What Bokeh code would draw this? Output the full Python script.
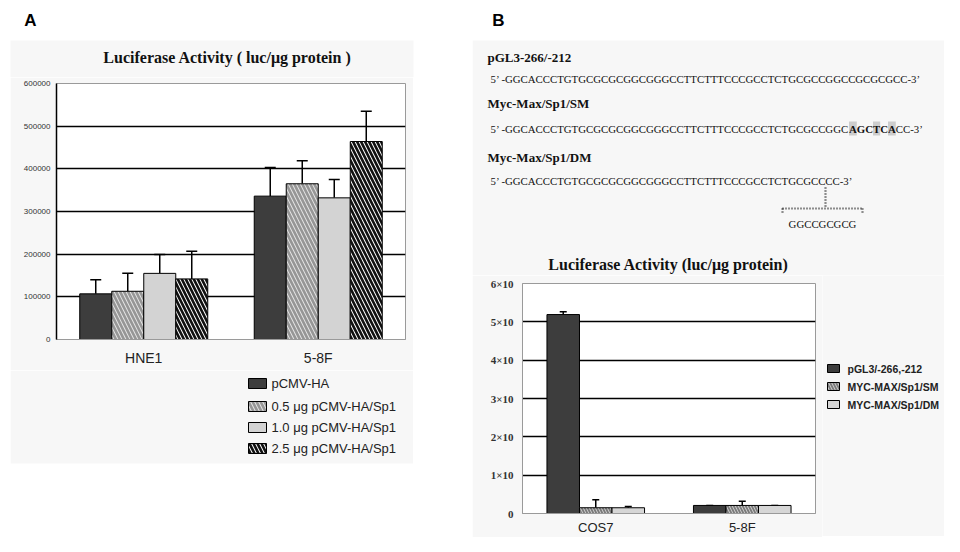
from bokeh.plotting import figure
from bokeh.layouts import row, column
from bokeh.models import (ColumnDataSource, FactorRange, Range1d, Whisker, TeeHead,
                          FixedTicker, NumeralTickFormatter, Spacer)
from bokeh.transform import dodge
from bokeh.core.properties import value
from bokeh.embed import file_html
from bokeh.resources import INLINE

# ---------------- Panel A data ----------------
a_cells = ["HNE1", "5-8F"]
a_series = ["pCMV-HA", "0.5 μg pCMV-HA/Sp1", "1.0 μg pCMV-HA/Sp1", "2.5 μg pCMV-HA/Sp1"]
a_mean_pcmv = [107000, 336000]
a_mean_05 = [113000, 365000]
a_mean_10 = [155000, 332000]
a_mean_25 = [142000, 464000]
a_sd_pcmv = [33000, 67000]
a_sd_05 = [42000, 54000]
a_sd_10 = [44000, 43000]
a_sd_25 = [65000, 71000]
a_yticks = [0, 100000, 200000, 300000, 400000, 500000, 600000]
a_title = "Luciferase Activity ( luc/μg protein )"

# ---------------- Panel B data ----------------
b_cells = ["COS7", "5-8F"]
b_series = ["pGL3/-266,-212", "MYC-MAX/Sp1/SM", "MYC-MAX/Sp1/DM"]
b_mean_wt = [5.19, 0.21]
b_mean_sm = [0.15, 0.21]
b_mean_dm = [0.15, 0.21]
b_sd_wt = [0.07, 0.0]
b_sd_sm = [0.21, 0.11]
b_sd_dm = [0.03, 0.0]
b_yticks = [0, 1, 2, 3, 4, 5, 6]
b_ytick_labels = ["0", "1×10", "2×10", "3×10", "4×10", "5×10", "6×10"]
b_title = "Luciferase Activity (luc/μg protein)"

seq_names = ["pGL3-266/-212", "Myc-Max/Sp1/SM", "Myc-Max/Sp1/DM"]
seq_wt = "5’ -GGCACCCTGTGCGCGCGGCGGGCCTTCTTTCCCGCCTCTGCGCCGGCCGCGCGCC-3’"
seq_sm_a = "5’ -GGCACCCTGTGCGCGCGGCGGGCCTTCTTTCCCGCCTCTGCGCCGGC"
seq_sm_b = "AGCTCA"
seq_sm_c = "CC-3’"
seq_dm = "5’ -GGCACCCTGTGCGCGCGGCGGGCCTTCTTTCCCGCCTCTGCGCCCC-3’"
seq_insert = "GGCCGCGCG"

BG = "#f7f7f7"
SERIF = "Liberation Serif"
SANS = "Liberation Sans"


def no_align(p):
    if "frame_align" in p.properties():
        p.frame_align = False
    return p


def text_fig(x0, x1, y0, y1):
    p = figure(x_range=Range1d(x0, x1), y_range=Range1d(y1, y0),
               frame_width=x1 - x0, frame_height=y1 - y0,
               min_border_left=0, min_border_right=0, min_border_top=0, min_border_bottom=0,
               x_axis_location=None, y_axis_location=None,
               output_backend="svg", toolbar_location=None, outline_line_color=None)
    p.grid.visible = False
    p.background_fill_color = "white"
    p.border_fill_color = "white"
    return no_align(p)


def chart_fig(xr, yr, fw, fh, l, r, t, b):
    p = figure(x_range=xr, y_range=yr, frame_width=fw, frame_height=fh,
               min_border_left=l, min_border_right=r, min_border_top=t, min_border_bottom=b,
               output_backend="svg", toolbar_location=None, outline_line_color="#9a9a9a")
    p.background_fill_color = "white"
    p.border_fill_color = BG
    return no_align(p)


def style_axes(p, ylab_font, ylab_size, ylab_style, ylab_standoff, yline_color, yline_w,
               xsize, xstandoff):
    p.yaxis.axis_line_color = yline_color
    p.yaxis.axis_line_width = yline_w
    p.yaxis.major_tick_out = 0
    p.yaxis.major_tick_in = 0
    p.yaxis.minor_tick_out = 0
    p.yaxis.minor_tick_in = 0
    p.yaxis.major_label_text_font = ylab_font
    p.yaxis.major_label_text_font_style = ylab_style
    p.yaxis.major_label_text_font_size = ylab_size
    p.yaxis.major_label_text_color = "#333333"
    p.yaxis.major_label_standoff = ylab_standoff
    p.xaxis.axis_line_color = "#9a9a9a"
    p.xaxis.major_tick_out = 0
    p.xaxis.major_tick_in = 0
    p.xaxis.major_label_text_font = SANS
    p.xaxis.major_label_text_font_size = xsize
    p.xaxis.major_label_text_color = "#222222"
    p.xaxis.major_label_standoff = xstandoff
    p.xgrid.visible = False
    p.ygrid.grid_line_color = "black"
    p.ygrid.grid_line_width = 1.5


# ================= Panel A : header =================
pAtop = text_fig(0, 472, 0, 77)
pAtop.quad(left=[10], right=[413], top=[40], bottom=[77], fill_color=BG, line_color=None)
pAtop.text(x=[30], y=[20], text=["A"], text_font=value(SANS), text_font_style="bold",
           text_font_size="17px", text_align="center", text_baseline="middle", text_color="black")
pAtop.text(x=[227], y=[57], text=[a_title], text_font=value(SERIF), text_font_style="bold",
           text_font_size="16px", text_align="center", text_baseline="middle", text_color="#111111")

# ================= Panel A : chart =================
pA = chart_fig(FactorRange(*a_cells), Range1d(0, 600000), 349, 256, 46, 8, 6, 31)

bwA = 0.1834
offA = [-1.5 * bwA, -0.5 * bwA, 0.5 * bwA, 1.5 * bwA]
a_means = [a_mean_pcmv, a_mean_05, a_mean_10, a_mean_25]
a_sds = [a_sd_pcmv, a_sd_05, a_sd_10, a_sd_25]
a_styles = [
    dict(fill_color="#3d3d3d"),
    dict(fill_color="#e4e4e4", hatch_pattern="left_diagonal_line", hatch_color="#969696",
         hatch_weight=2.6, hatch_scale=8),
    dict(fill_color="#d3d3d3"),
    dict(fill_color="white", hatch_pattern="left_diagonal_line", hatch_color="#111111",
         hatch_weight=2.6, hatch_scale=8),
]
for m, s, off, st in zip(a_means, a_sds, offA, a_styles):
    src = ColumnDataSource(dict(cell=a_cells, mean=m, top=[mm + ss for mm, ss in zip(m, s)]))
    x = dodge("cell", off, range=pA.x_range)
    pA.add_layout(Whisker(source=src, base=x, lower="mean", upper="top", dimension="height",
                          line_color="black", line_width=1.5, lower_head=None,
                          upper_head=TeeHead(size=11, line_color="black", line_width=1.5)))
    pA.vbar(x=x, top="mean", bottom=0, width=bwA, source=src, line_color="black", line_width=1, **st)

pA.yaxis.ticker = FixedTicker(ticks=a_yticks)
pA.yaxis.formatter = NumeralTickFormatter(format="0")
style_axes(pA, SANS, "8px", "normal", 6, "black", 1.5, "14px", 10)
pA.ygrid.ticker = FixedTicker(ticks=a_yticks[1:-1])

# ================= Panel A : legend =================
pAbot = text_fig(10, 413, 370, 536)
pAbot.quad(left=[10], right=[413], top=[370], bottom=[463], fill_color=BG, line_color=None)
a_leg_rows = [383, 406, 427, 448]
for yy, st in zip(a_leg_rows, a_styles):
    pAbot.quad(left=[248], right=[266], top=[yy - 5], bottom=[yy + 5], line_color="black",
               line_width=1, **st)
pAbot.text(x=[271] * 4, y=a_leg_rows, text=a_series, text_font=value(SANS), text_font_size="13px",
           text_align="left", text_baseline="middle", text_color="#222222")

# ================= Panel B : sequences =================
pT = text_fig(472, 944, 0, 275)
pT.quad(left=[472], right=[944], top=[40], bottom=[275], fill_color=BG, line_color=None)
pT.text(x=[498], y=[20], text=["B"], text_font=value(SANS), text_font_style="bold",
        text_font_size="17px", text_align="center", text_baseline="middle", text_color="black")
pT.text(x=[487, 487, 487], y=[57, 103, 157], text=seq_names, text_font=value(SERIF),
        text_font_style="bold", text_font_size="13px", text_align="left",
        text_baseline="middle", text_color="#111111")
# grey highlight behind the substituted bases (A, T, A)
pT.quad(left=[848.5, 872.5, 887.5], right=[856.3, 879.7, 895.3], top=[121, 121, 121],
        bottom=[135, 135, 135], fill_color="#cdcdcd", line_color=None)
seq_kw = dict(text_font=value(SERIF), text_font_size="10.8px", text_baseline="middle",
              text_color="#111111")
pT.text(x=[490], y=[78], text=[seq_wt], text_align="left", **seq_kw)
pT.text(x=[490], y=[128], text=[seq_sm_a], text_align="left", **seq_kw)
pT.text(x=[848.5], y=[128], text=[seq_sm_b], text_align="left", text_font_style="bold", **seq_kw)
pT.text(x=[895.3], y=[128], text=[seq_sm_c], text_align="left", **seq_kw)
pT.text(x=[490], y=[180], text=[seq_dm], text_align="left", **seq_kw)
pT.text(x=[822], y=[223], text=[seq_insert], text_align="center", **seq_kw)
pT.segment(x0=[825, 782, 782, 862], y0=[187, 208, 208, 208], x1=[825, 862, 782, 862],
           y1=[208, 208, 213, 213], line_color="#222222", line_width=2.2, line_dash="1 2")
pT.text(x=[668], y=[264], text=[b_title], text_font=value(SERIF), text_font_style="bold",
        text_font_size="16px", text_align="center", text_baseline="middle", text_color="#111111")

# ================= Panel B : chart =================
pB = chart_fig(FactorRange(*b_cells), Range1d(0, 6), 293, 230, 50, 7, 8, 23)

bwB = 0.222
offB = [-bwB, 0, bwB]
b_means = [b_mean_wt, b_mean_sm, b_mean_dm]
b_sds = [b_sd_wt, b_sd_sm, b_sd_dm]
b_styles = [
    dict(fill_color="#3d3d3d"),
    dict(fill_color="#d0d0d0", hatch_pattern="left_diagonal_line", hatch_color="#7a7a7a",
         hatch_weight=1.8, hatch_scale=6),
    dict(fill_color="#d6d6d6"),
]
for m, s, off, st in zip(b_means, b_sds, offB, b_styles):
    src = ColumnDataSource(dict(cell=b_cells, mean=m, top=[mm + ss for mm, ss in zip(m, s)]))
    x = dodge("cell", off, range=pB.x_range)
    pB.add_layout(Whisker(source=src, base=x, lower="mean", upper="top", dimension="height",
                          line_color="black", line_width=1.5, lower_head=None,
                          upper_head=TeeHead(size=7, line_color="black", line_width=1.5)))
    pB.vbar(x=x, top="mean", bottom=0, width=bwB, source=src, line_color="black", line_width=1, **st)

pB.yaxis.ticker = FixedTicker(ticks=b_yticks)
pB.yaxis.major_label_overrides = {t: lab for t, lab in zip(b_yticks, b_ytick_labels)}
style_axes(pB, SERIF, "11px", "bold", 9, "#9a9a9a", 1, "13px", 6)
pB.ygrid.ticker = FixedTicker(ticks=b_yticks[1:-1])

# ================= Panel B : legend =================
pBleg = text_fig(822, 944, 275, 536)
pBleg.background_fill_color = BG
pBleg.border_fill_color = BG
b_leg_rows = [368, 386, 404]
for yy, st in zip(b_leg_rows, b_styles):
    pBleg.quad(left=[827], right=[839], top=[yy - 4], bottom=[yy + 4], line_color="black",
               line_width=1, **st)
pBleg.text(x=[847] * 3, y=b_leg_rows, text=b_series, text_font=value(SANS),
           text_font_style="bold", text_font_size="10.5px", text_align="left",
           text_baseline="middle", text_color="#222222")

left = column(pAtop, row(Spacer(width=10, height=459), column(pA, pAbot, spacing=0),
                         Spacer(width=59, height=459), spacing=0), spacing=0)
right = column(pT, row(pB, pBleg, spacing=0), spacing=0)
layout = row(left, right, spacing=0)
open("out.html", "w").write(file_html(layout, INLINE))
